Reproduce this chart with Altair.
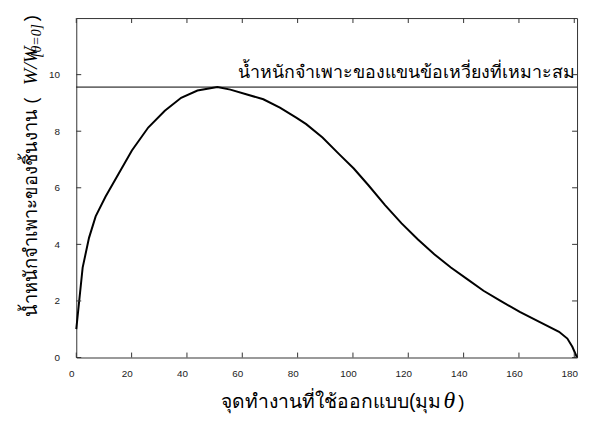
import altair as alt
import pandas as pd

# curve data
theta = [0, 2.3, 4.6, 7.0, 10.6, 15.3, 20.1, 26, 32, 37.9, 43.8, 51, 55.7, 61.7,
         67.6, 73.6, 79.5, 83.1, 89, 94.9, 100.3, 105.6, 111.6, 117.5, 123.5,
         129.4, 135.4, 141.3, 147.2, 153.2, 160.3, 167.4, 174.5, 177.5, 179.3, 181]
ratio = [1.0, 3.18, 4.23, 4.99, 5.69, 6.5, 7.32, 8.13, 8.72, 9.18, 9.44, 9.56, 9.47, 9.30,
         9.13, 8.83, 8.48, 8.25, 7.78, 7.2, 6.68, 6.09, 5.39, 4.75, 4.17,
         3.65, 3.18, 2.77, 2.36, 2.01, 1.61, 1.26, 0.91, 0.67, 0.38, 0.0]
optimum = [9.56]
x_ticks = [0, 20, 40, 60, 80, 100, 120, 140, 160, 180]
y_ticks = [0, 2, 4, 6, 8, 10]
annotation = ["น้ำหนักจำเพาะของแขนข้อเหวี่ยงที่เหมาะสม"]
x_title = ["จุดทำงานที่ใช้ออกแบบ(มุม ", "θ", ")"]
y_title = ["น้ำหนักจำเพาะของชิ้นงาน (", "W/W", "[θ=0]", ")"]

W, H = 506, 343
XMAX, YMAX = 181, 12

curve = pd.DataFrame({"theta": theta, "ratio": ratio})
opt = pd.DataFrame({"v": optimum, "label": annotation})
xt = pd.DataFrame({"t": x_ticks})
yt = pd.DataFrame({"t": y_ticks})
one = pd.DataFrame({"a": [0]})

xs = alt.Scale(domain=[0, XMAX], nice=False, zero=False)
ys = alt.Scale(domain=[0, YMAX], nice=False, zero=False)

line = alt.Chart(curve).mark_line(color="black", strokeWidth=2).encode(
    x=alt.X("theta:Q", scale=xs,
            axis=alt.Axis(values=x_ticks, title=None, grid=False, domain=False, ticks=False,
                          labelFont="Liberation Sans", labelFontSize=10, labelColor="#222",
                          labelPadding=11, labelOffset=-5, labelFlush=False)),
    y=alt.Y("ratio:Q", scale=ys,
            axis=alt.Axis(values=y_ticks, title=None, grid=False, domain=False, ticks=False,
                          labelFont="Liberation Sans", labelFontSize=10, labelColor="#222",
                          labelPadding=17, labelFlush=False)),
)

hline = alt.Chart(opt).mark_rule(color="black", strokeWidth=1).encode(
    y=alt.Y("v:Q", scale=ys), x=alt.value(0), x2=alt.value(W)
)
ann = alt.Chart(opt).mark_text(align="right", baseline="alphabetic", dy=-9,
                               fontSize=18, color="black").encode(
    y=alt.Y("v:Q", scale=ys), x=alt.value(W - 2), text="label:N"
)

tk = dict(color="#333", strokeWidth=1)
bt = alt.Chart(xt).mark_rule(**tk).encode(x=alt.X("t:Q", scale=xs), y=alt.value(H), y2=alt.value(H - 5))
tt = alt.Chart(xt).mark_rule(**tk).encode(x=alt.X("t:Q", scale=xs), y=alt.value(0), y2=alt.value(5))
lt = alt.Chart(yt).mark_rule(**tk).encode(y=alt.Y("t:Q", scale=ys), x=alt.value(0), x2=alt.value(5))
rt = alt.Chart(yt).mark_rule(**tk).encode(y=alt.Y("t:Q", scale=ys), x=alt.value(W), x2=alt.value(W - 5))

# x-axis title pieces
xt1 = alt.Chart(one).mark_text(align="right", baseline="alphabetic", fontSize=19.5, color="black",
                               text=x_title[0]).encode(x=alt.value(369), y=alt.value(394))
xt2 = alt.Chart(one).mark_text(align="left", baseline="alphabetic", fontSize=24, fontStyle="italic",
                               font="Liberation Serif", color="black",
                               text=x_title[1]).encode(x=alt.value(371), y=alt.value(394))
xt3 = alt.Chart(one).mark_text(align="left", baseline="alphabetic", fontSize=19, color="black",
                               font="Liberation Sans",
                               text=x_title[2]).encode(x=alt.value(386), y=alt.value(394))

# y-axis title pieces (rotated)
yb = -40
yt1 = alt.Chart(one).mark_text(align="left", baseline="alphabetic", angle=270, fontSize=18.5,
                               color="black", text=y_title[0]).encode(x=alt.value(yb), y=alt.value(302))
yt2 = alt.Chart(one).mark_text(align="right", baseline="alphabetic", angle=270, fontSize=20,
                               fontStyle="italic", font="Liberation Serif", color="black",
                               text=y_title[1]).encode(x=alt.value(yb), y=alt.value(29))
yt3 = alt.Chart(one).mark_text(align="right", baseline="alphabetic", angle=270, fontSize=14,
                               fontStyle="italic", font="Liberation Serif", color="black",
                               text=y_title[2]).encode(x=alt.value(yb + 4), y=alt.value(6))
yt4 = alt.Chart(one).mark_text(align="right", baseline="alphabetic", angle=270, fontSize=19,
                               font="Liberation Sans", color="black",
                               text=y_title[3]).encode(x=alt.value(yb), y=alt.value(-3))

chart = alt.layer(line, hline, ann, bt, tt, lt, rt, xt1, xt2, xt3, yt1, yt2, yt3, yt4).properties(
    width=W, height=H,
    autosize=alt.AutoSizeParams(type="none"),
    padding={"left": 69, "top": 8, "right": 4, "bottom": 64},
).configure_view(stroke="#333", strokeWidth=1)

chart.save("out.html", embed_options={"renderer": "svg", "actions": False})
